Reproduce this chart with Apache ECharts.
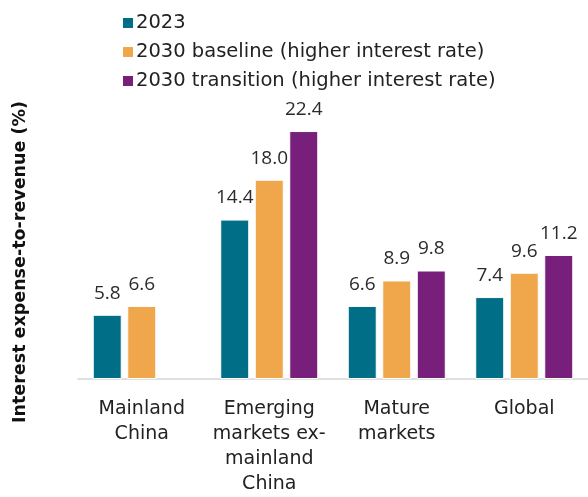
<!DOCTYPE html>
<html>
<head>
<meta charset="utf-8">
<script src="https://cdn.jsdelivr.net/npm/echarts@6/dist/echarts.min.js"></script>
<style>
  html, body { margin: 0; padding: 0; background: #fff; }
  #chart { width: 588px; height: 497px; }
</style>
</head>
<body>
<div id="chart"></div>
<script>
// Regions (multi-line labels as shown under the axis)
const categories = ['Mainland\nChina', 'Emerging\nmarkets ex-\nmainland\nChina', 'Mature\nmarkets', 'Global'];
// Interest expense-to-revenue, %
const values2023 = [5.8, 14.4, 6.6, 7.4];
const valuesBaseline2030 = [6.6, 18.0, 8.9, 9.6];
const valuesTransition2030 = [null, 22.4, 9.8, 11.2];

const seriesNames = ['2023', '2030 baseline (higher interest rate)', '2030 transition (higher interest rate)'];
const colors = ['#006E87', '#F0A64B', '#771F7B'];
const TEXT_FONT = '"DejaVu Sans", sans-serif';
const VALUE_FONT = '"Open Sans", sans-serif';

const chart = echarts.init(document.getElementById('chart'), null, { renderer: 'canvas' });

// later series sit above earlier ones, so neighbouring bars overlap wide value labels
function barSeries(name, data, color, z) {
  return {
    name: name,
    type: 'bar',
    z: z,
    data: data,
    barWidth: 29,
    barGap: '19%',
    itemStyle: { color: color, borderColor: '#ffffff', borderWidth: 1 },
    label: {
      show: true,
      position: 'top',
      distance: 12,
      color: '#2b2b2b',
      fontFamily: VALUE_FONT,
      fontSize: 19,
      formatter: p => p.value == null ? '' : p.value.toFixed(1)
    }
  };
}

chart.setOption({
  animation: false,
  color: colors,
  legend: {
    orient: 'vertical',
    left: 116,
    top: 8,
    itemWidth: 12,
    itemHeight: 12,
    itemGap: 9,
    icon: 'rect',
    textStyle: { fontFamily: TEXT_FONT, fontSize: 19.5, color: '#222222', padding: [0, 0, 0, -3] },
    data: seriesNames
  },
  grid: { left: 78, width: 517, top: 379 - 24 * 11.07, height: 24 * 11.07, containLabel: false },
  xAxis: {
    type: 'category',
    data: categories,
    axisLine: { show: true, lineStyle: { color: '#d6d6d6', width: 1.5 } },
    axisTick: { show: false },
    axisLabel: {
      margin: 18,
      interval: 0,
      fontFamily: TEXT_FONT,
      fontSize: 19,
      lineHeight: 25,
      color: '#222222'
    }
  },
  yAxis: {
    type: 'value',
    min: 0,
    max: 24,
    show: false
  },
  graphic: [{
    type: 'text',
    x: 20,
    y: 262,
    rotation: Math.PI / 2,
    style: {
      text: 'Interest expense-to-revenue (%)',
      fontFamily: TEXT_FONT,
      fontSize: 17.5,
      fontWeight: 'bold',
      fill: '#111111',
      align: 'center',
      verticalAlign: 'middle'
    }
  }],
  series: [
    barSeries(seriesNames[0], values2023, colors[0], 2),
    barSeries(seriesNames[1], valuesBaseline2030, colors[1], 3),
    barSeries(seriesNames[2], valuesTransition2030, colors[2], 4)
  ]
});
</script>
</body>
</html>
